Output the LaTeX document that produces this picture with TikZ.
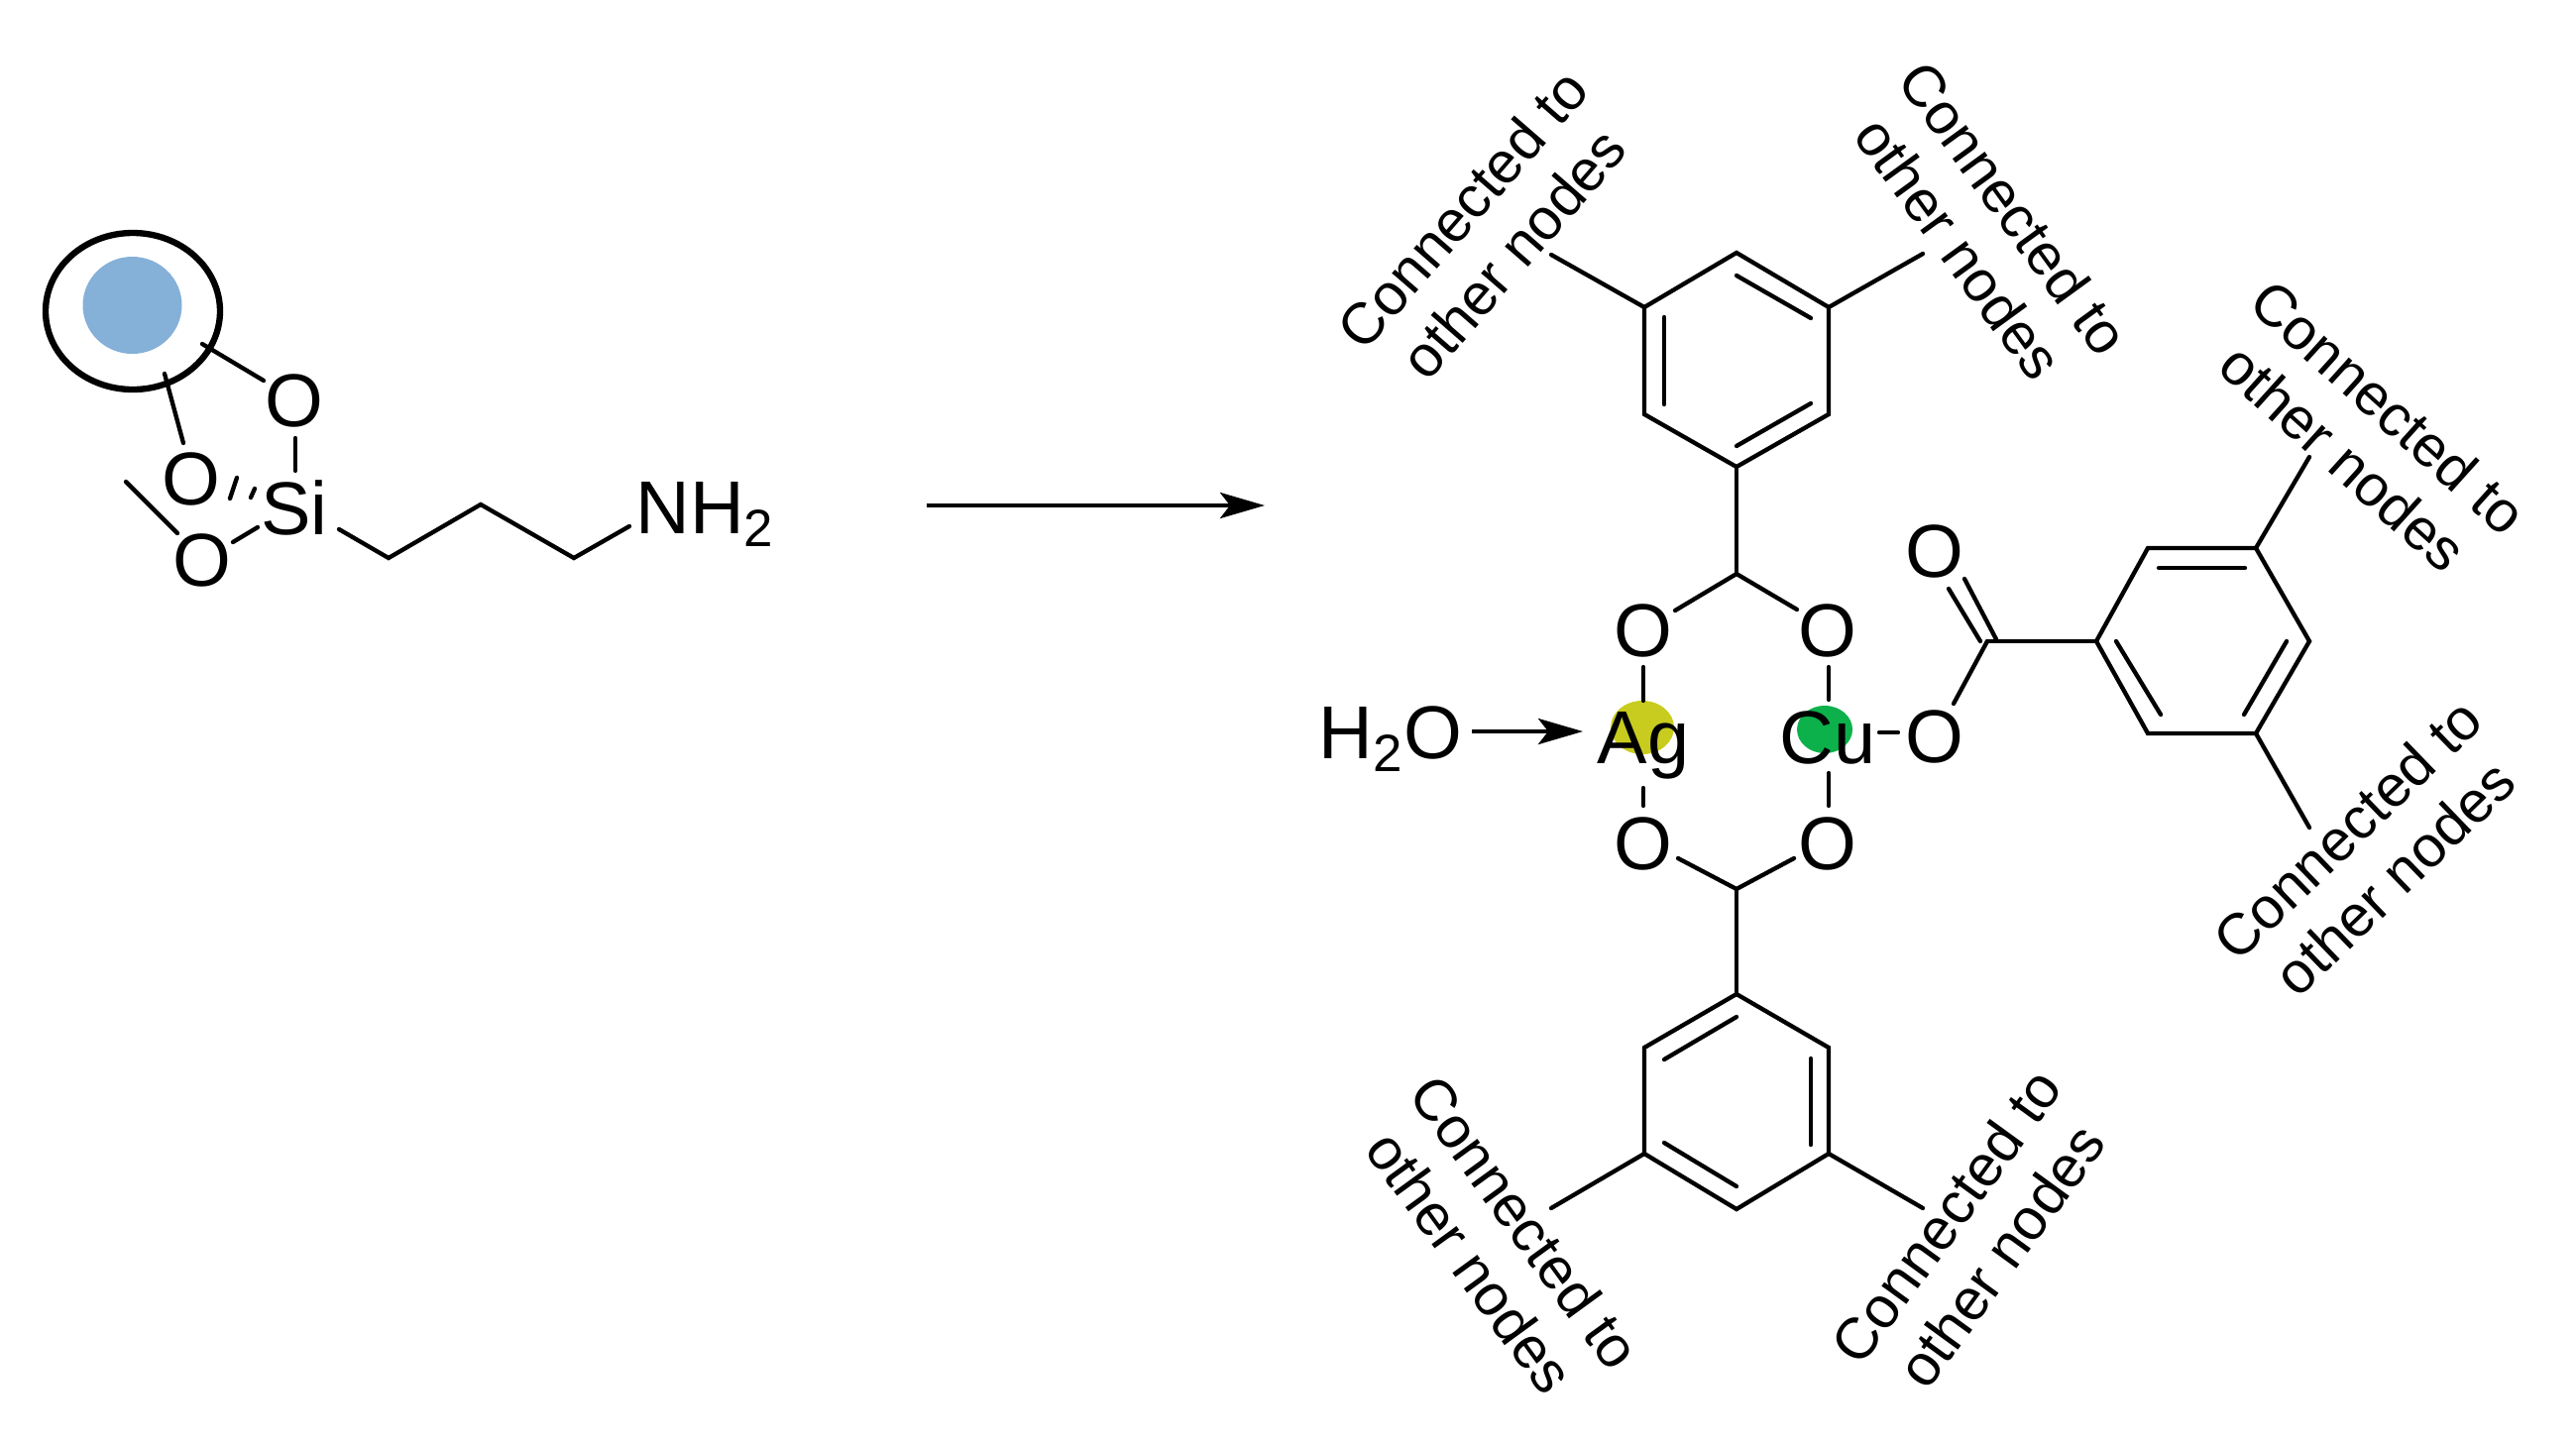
\documentclass[tikz,border=0pt]{standalone}
\usepackage{fontspec}
\setmainfont{Liberation Sans}
\usetikzlibrary{arrows.meta}
\newcommand{\atomfont}{\fontsize{22.7pt}{25pt}\selectfont}
\newcommand{\labelfont}{\fontsize{17.6pt}{20.5pt}\selectfont}
\tikzset{
  x=0.3pt,y=-0.3pt,
  bond/.style={line width=1.3pt,line cap=round,line join=miter},
  atom/.style={inner sep=0pt,font=\atomfont,text=black},
  conn/.style={inner sep=0pt,font=\labelfont,align=center,text=black},
  rxn/.style={line width=1.3pt,-{Stealth[length=13.5pt,width=7.8pt,inset=3pt]}}
}
\definecolor{beadblue}{RGB}{133,176,216}
\definecolor{agspot}{RGB}{200,204,30}
\definecolor{cuspot}{RGB}{13,177,75}
\begin{document}
\begin{tikzpicture}
\useasboundingbox (0,0) rectangle (2599,1459);
% support
\fill[beadblue] (133.5,308) ellipse [x radius=50,y radius=49];
\draw[line width=1.9pt] (134,314) ellipse [x radius=88,y radius=79];
% colored metal spots
\fill[agspot] (1657,734) ellipse [x radius=32,y radius=27];
\fill[cuspot] (1841,736) ellipse [x radius=28,y radius=24];
% atoms left
\node[atom] (o1) at (297,404) {O};
\node[atom] (o2) at (193,483) {O};
\node[atom] (o3) at (204,565) {O};
\node[atom] (si) at (297,512) {Si};
\node[atom,anchor=base west] (nh2) at (641,538) {NH\textsubscript{2}};
\coordinate (s1) at (204,347);
\coordinate (s2) at (166,377);
\coordinate (me) at (127,486);
\coordinate (c1) at (392,563);
\coordinate (c2) at (485,509);
\coordinate (c3) at (579,563);
\draw[bond] (s1) -- (266,384);
\draw[bond] (s2) -- (185,447);
\draw[bond] (298,442) -- (298,475);
\draw[bond] (me) -- (179,538);
\draw[bond] (260,532) -- (235,547);
\draw[bond] (232,503) -- (239,482);
\draw[bond] (253,502) -- (257,493);
\draw[bond] (342,534) -- (c1) -- (c2) -- (c3) -- (635,531);
% main arrow
\coordinate (a1) at (935,510);
\coordinate (a2) at (1276,510);
\draw[rxn] (a1) -- (a2);
% core atoms
\node[atom] (otl) at (1658,636) {O};
\node[atom] (otr) at (1844,636) {O};
\node[atom] (obl) at (1658,851) {O};
\node[atom] (obr) at (1844,851) {O};
\node[atom,anchor=base] (ag) at (1658,770) {Ag};
\node[atom,anchor=base] (cu) at (1844,770) {Cu};
\node[atom] (o5) at (1952,743) {O};
\node[atom] (o6) at (1952,556) {O};
\node[atom,anchor=base west] (w) at (1330,765) {H\textsubscript{2}O};
\coordinate (w1) at (1485,738);
\coordinate (w2) at (1597,738);
\draw[rxn] (w1) -- (w2);
\coordinate (ct) at (1752,579);
\coordinate (cb) at (1752,897);
\coordinate (cr) at (2005,647);
\draw[bond] (1690,616) -- (ct) -- (1813,615);
\draw[bond] (1693,866) -- (cb) -- (1810,866);
\draw[bond] (1658,673) -- (1658,707);
\draw[bond] (1845,673) -- (1845,706);
\draw[bond] (1658,795) -- (1658,813);
\draw[bond] (1845,780) -- (1845,813);
\draw[bond] (1896,739) -- (1915,739);
\draw[bond] (1971,710) -- (cr);
\draw[bond] (1966,594) -- (1998,647);
\draw[bond] (1982,584) -- (2014,645);
% top ring
\coordinate (t1) at (1752,255); \coordinate (t2) at (1845,310); \coordinate (t3) at (1845,418);
\coordinate (t4) at (1752,471); \coordinate (t5) at (1659,418); \coordinate (t6) at (1659,310);
\draw[bond] (t1) -- (t2) -- (t3) -- (t4) -- (t5) -- (t6) -- cycle;
\draw[bond] (1752,278) -- (1827,321);
\draw[bond] (1827,407) -- (1752,450);
\draw[bond] (1679,320) -- (1679,408);
\draw[bond] (t4) -- (ct);
\draw[bond] (t6) -- (1565,257);
\draw[bond] (t2) -- (1940,256);
% bottom ring
\coordinate (b1) at (1752,1003); \coordinate (b2) at (1845,1057); \coordinate (b3) at (1845,1164);
\coordinate (b4) at (1752,1220); \coordinate (b5) at (1659,1164); \coordinate (b6) at (1659,1057);
\draw[bond] (b1) -- (b2) -- (b3) -- (b4) -- (b5) -- (b6) -- cycle;
\draw[bond] (1752,1026) -- (1679,1069);
\draw[bond] (1827,1068) -- (1827,1155);
\draw[bond] (1679,1153) -- (1752,1197);
\draw[bond] (cb) -- (b1);
\draw[bond] (b5) -- (1565,1219);
\draw[bond] (b3) -- (1940,1219);
% right ring
\coordinate (r1) at (2115,647); \coordinate (r2) at (2167,553); \coordinate (r3) at (2276,553);
\coordinate (r4) at (2330,647); \coordinate (r5) at (2276,740); \coordinate (r6) at (2167,740);
\draw[bond] (r1) -- (r2) -- (r3) -- (r4) -- (r5) -- (r6) -- cycle;
\draw[bond] (2178,573) -- (2265,573);
\draw[bond] (2135,647) -- (2180,721);
\draw[bond] (2264,721) -- (2307,647);
\draw[bond] (cr) -- (r1);
\draw[bond] (r3) -- (2330,461);
\draw[bond] (r5) -- (2330,835);
% labels
\node[conn,rotate=49] (l1) at (1501,233) {Connected to\\other nodes};
\node[conn,rotate=-54] (l2) at (2004,230) {Connected to\\other nodes};
\node[conn,rotate=-42] (l3) at (2387,436) {Connected to\\other nodes};
\node[conn,rotate=44] (l4) at (2392,861) {Connected to\\other nodes};
\node[conn,rotate=-54] (l5) at (1511,1253) {Connected to\\other nodes};
\node[conn,rotate=54] (l6) at (1991,1247) {Connected to\\other nodes};
\end{tikzpicture}
\end{document}
